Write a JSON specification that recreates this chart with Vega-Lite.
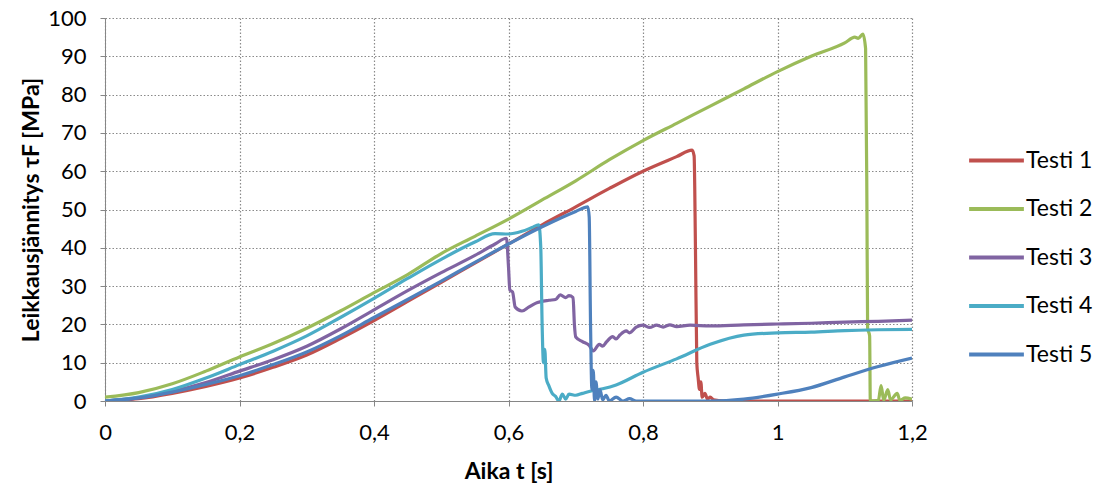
{
"$schema":"https://vega.github.io/schema/vega-lite/v6.json",
"width":807,"height":383,
"autosize":{"type":"none"},
"padding":{"left":105,"top":18,"right":197,"bottom":89},
"background":"white",
"config":{"font":"Lato","view":{"stroke":null}},
"data":{"values":[
{"s":"Testi 1","t":0,"v":0},{"s":"Testi 1","t":0.05,"v":0.6},{"s":"Testi 1","t":0.1,"v":2},{"s":"Testi 1","t":0.15,"v":3.8},{"s":"Testi 1","t":0.2,"v":6},{"s":"Testi 1","t":0.25,"v":8.8},{"s":"Testi 1","t":0.3,"v":12},{"s":"Testi 1","t":0.35,"v":16.3},{"s":"Testi 1","t":0.4,"v":21},{"s":"Testi 1","t":0.45,"v":26},{"s":"Testi 1","t":0.5,"v":31},{"s":"Testi 1","t":0.55,"v":36},{"s":"Testi 1","t":0.6,"v":41},{"s":"Testi 1","t":0.65,"v":46},{"s":"Testi 1","t":0.7,"v":50.7},{"s":"Testi 1","t":0.75,"v":55.5},{"s":"Testi 1","t":0.8,"v":60},{"s":"Testi 1","t":0.85,"v":63.8},{"s":"Testi 1","t":0.873,"v":65.5},{"s":"Testi 1","t":0.876,"v":64},{"s":"Testi 1","t":0.878,"v":40},{"s":"Testi 1","t":0.88,"v":10},{"s":"Testi 1","t":0.882,"v":6},{"s":"Testi 1","t":0.884,"v":3},{"s":"Testi 1","t":0.886,"v":5},{"s":"Testi 1","t":0.888,"v":1},{"s":"Testi 1","t":0.892,"v":2},{"s":"Testi 1","t":0.896,"v":0.5},{"s":"Testi 1","t":0.9,"v":1},{"s":"Testi 1","t":0.905,"v":0.3},{"s":"Testi 1","t":0.92,"v":0},{"s":"Testi 1","t":1.2,"v":0},
{"s":"Testi 2","t":0,"v":1},{"s":"Testi 2","t":0.05,"v":2.2},{"s":"Testi 2","t":0.1,"v":4.5},{"s":"Testi 2","t":0.15,"v":7.8},{"s":"Testi 2","t":0.2,"v":11.5},{"s":"Testi 2","t":0.25,"v":15},{"s":"Testi 2","t":0.3,"v":19},{"s":"Testi 2","t":0.35,"v":23.5},{"s":"Testi 2","t":0.4,"v":28.3},{"s":"Testi 2","t":0.45,"v":33},{"s":"Testi 2","t":0.5,"v":38.5},{"s":"Testi 2","t":0.55,"v":43},{"s":"Testi 2","t":0.6,"v":47.5},{"s":"Testi 2","t":0.65,"v":52.5},{"s":"Testi 2","t":0.7,"v":57.5},{"s":"Testi 2","t":0.75,"v":63},{"s":"Testi 2","t":0.8,"v":68},{"s":"Testi 2","t":0.85,"v":72.5},{"s":"Testi 2","t":0.9,"v":77},{"s":"Testi 2","t":0.95,"v":81.5},{"s":"Testi 2","t":1.0,"v":86},{"s":"Testi 2","t":1.05,"v":90},{"s":"Testi 2","t":1.1,"v":93.5},{"s":"Testi 2","t":1.115,"v":95},{"s":"Testi 2","t":1.12,"v":94.7},{"s":"Testi 2","t":1.127,"v":95.8},{"s":"Testi 2","t":1.131,"v":92},{"s":"Testi 2","t":1.133,"v":50},{"s":"Testi 2","t":1.134,"v":19},{"s":"Testi 2","t":1.137,"v":17},{"s":"Testi 2","t":1.138,"v":0},{"s":"Testi 2","t":1.15,"v":0.2},{"s":"Testi 2","t":1.154,"v":4},{"s":"Testi 2","t":1.158,"v":0.2},{"s":"Testi 2","t":1.164,"v":3},{"s":"Testi 2","t":1.168,"v":0.3},{"s":"Testi 2","t":1.178,"v":2},{"s":"Testi 2","t":1.182,"v":0.2},{"s":"Testi 2","t":1.19,"v":0.8},{"s":"Testi 2","t":1.2,"v":0.5},
{"s":"Testi 3","t":0,"v":0},{"s":"Testi 3","t":0.05,"v":0.8},{"s":"Testi 3","t":0.1,"v":2.5},{"s":"Testi 3","t":0.15,"v":4.8},{"s":"Testi 3","t":0.2,"v":7.8},{"s":"Testi 3","t":0.25,"v":10.8},{"s":"Testi 3","t":0.3,"v":14.3},{"s":"Testi 3","t":0.35,"v":18.8},{"s":"Testi 3","t":0.4,"v":23.8},{"s":"Testi 3","t":0.45,"v":28.8},{"s":"Testi 3","t":0.5,"v":33.5},{"s":"Testi 3","t":0.55,"v":38},{"s":"Testi 3","t":0.58,"v":41},{"s":"Testi 3","t":0.597,"v":42.5},{"s":"Testi 3","t":0.6,"v":35},{"s":"Testi 3","t":0.602,"v":29},{"s":"Testi 3","t":0.606,"v":28.5},{"s":"Testi 3","t":0.61,"v":24.5},{"s":"Testi 3","t":0.62,"v":23.5},{"s":"Testi 3","t":0.63,"v":24.5},{"s":"Testi 3","t":0.64,"v":25.5},{"s":"Testi 3","t":0.66,"v":26.3},{"s":"Testi 3","t":0.67,"v":26.5},{"s":"Testi 3","t":0.677,"v":27.7},{"s":"Testi 3","t":0.685,"v":27},{"s":"Testi 3","t":0.69,"v":27.5},{"s":"Testi 3","t":0.696,"v":27},{"s":"Testi 3","t":0.698,"v":20},{"s":"Testi 3","t":0.7,"v":16.7},{"s":"Testi 3","t":0.71,"v":15.5},{"s":"Testi 3","t":0.72,"v":14.5},{"s":"Testi 3","t":0.726,"v":13.1},{"s":"Testi 3","t":0.735,"v":14.8},{"s":"Testi 3","t":0.74,"v":14.3},{"s":"Testi 3","t":0.746,"v":15.5},{"s":"Testi 3","t":0.755,"v":16.8},{"s":"Testi 3","t":0.76,"v":16.2},{"s":"Testi 3","t":0.766,"v":17.3},{"s":"Testi 3","t":0.775,"v":18.3},{"s":"Testi 3","t":0.78,"v":17.8},{"s":"Testi 3","t":0.79,"v":19.3},{"s":"Testi 3","t":0.8,"v":19.8},{"s":"Testi 3","t":0.81,"v":19.2},{"s":"Testi 3","t":0.82,"v":19.8},{"s":"Testi 3","t":0.83,"v":19.3},{"s":"Testi 3","t":0.84,"v":19.9},{"s":"Testi 3","t":0.85,"v":19.4},{"s":"Testi 3","t":0.87,"v":19.8},{"s":"Testi 3","t":0.9,"v":19.6},{"s":"Testi 3","t":0.95,"v":19.9},{"s":"Testi 3","t":1.0,"v":20.1},{"s":"Testi 3","t":1.05,"v":20.3},{"s":"Testi 3","t":1.1,"v":20.6},{"s":"Testi 3","t":1.15,"v":20.8},{"s":"Testi 3","t":1.2,"v":21.1},
{"s":"Testi 4","t":0,"v":0},{"s":"Testi 4","t":0.05,"v":1},{"s":"Testi 4","t":0.1,"v":3},{"s":"Testi 4","t":0.15,"v":6},{"s":"Testi 4","t":0.2,"v":9.5},{"s":"Testi 4","t":0.25,"v":13},{"s":"Testi 4","t":0.3,"v":17},{"s":"Testi 4","t":0.35,"v":21.8},{"s":"Testi 4","t":0.4,"v":26.8},{"s":"Testi 4","t":0.45,"v":32},{"s":"Testi 4","t":0.5,"v":37},{"s":"Testi 4","t":0.55,"v":41.5},{"s":"Testi 4","t":0.58,"v":43.7},{"s":"Testi 4","t":0.6,"v":43.6},{"s":"Testi 4","t":0.62,"v":44.3},{"s":"Testi 4","t":0.635,"v":45.3},{"s":"Testi 4","t":0.645,"v":46},{"s":"Testi 4","t":0.648,"v":40},{"s":"Testi 4","t":0.65,"v":20},{"s":"Testi 4","t":0.652,"v":10},{"s":"Testi 4","t":0.654,"v":13.5},{"s":"Testi 4","t":0.656,"v":6},{"s":"Testi 4","t":0.66,"v":4},{"s":"Testi 4","t":0.665,"v":2},{"s":"Testi 4","t":0.67,"v":1.2},{"s":"Testi 4","t":0.675,"v":0},{"s":"Testi 4","t":0.68,"v":1.8},{"s":"Testi 4","t":0.685,"v":0.5},{"s":"Testi 4","t":0.69,"v":1.8},{"s":"Testi 4","t":0.7,"v":1.5},{"s":"Testi 4","t":0.71,"v":2},{"s":"Testi 4","t":0.72,"v":2.5},{"s":"Testi 4","t":0.74,"v":3.2},{"s":"Testi 4","t":0.76,"v":4.2},{"s":"Testi 4","t":0.8,"v":7.5},{"s":"Testi 4","t":0.85,"v":11},{"s":"Testi 4","t":0.9,"v":14.8},{"s":"Testi 4","t":0.95,"v":17.2},{"s":"Testi 4","t":1.0,"v":17.8},{"s":"Testi 4","t":1.05,"v":18},{"s":"Testi 4","t":1.1,"v":18.4},{"s":"Testi 4","t":1.15,"v":18.6},{"s":"Testi 4","t":1.2,"v":18.7},
{"s":"Testi 5","t":0,"v":0},{"s":"Testi 5","t":0.05,"v":0.8},{"s":"Testi 5","t":0.1,"v":2.3},{"s":"Testi 5","t":0.15,"v":4.3},{"s":"Testi 5","t":0.2,"v":6.6},{"s":"Testi 5","t":0.25,"v":9.5},{"s":"Testi 5","t":0.3,"v":12.8},{"s":"Testi 5","t":0.35,"v":17},{"s":"Testi 5","t":0.4,"v":21.8},{"s":"Testi 5","t":0.45,"v":26.5},{"s":"Testi 5","t":0.5,"v":31.3},{"s":"Testi 5","t":0.55,"v":36.2},{"s":"Testi 5","t":0.6,"v":41},{"s":"Testi 5","t":0.65,"v":45.5},{"s":"Testi 5","t":0.7,"v":49.5},{"s":"Testi 5","t":0.718,"v":50.7},{"s":"Testi 5","t":0.72,"v":48},{"s":"Testi 5","t":0.722,"v":20},{"s":"Testi 5","t":0.724,"v":3},{"s":"Testi 5","t":0.726,"v":8},{"s":"Testi 5","t":0.728,"v":0},{"s":"Testi 5","t":0.73,"v":5},{"s":"Testi 5","t":0.733,"v":0.5},{"s":"Testi 5","t":0.736,"v":3},{"s":"Testi 5","t":0.74,"v":0.3},{"s":"Testi 5","t":0.745,"v":1.5},{"s":"Testi 5","t":0.75,"v":0},{"s":"Testi 5","t":0.76,"v":1},{"s":"Testi 5","t":0.77,"v":0},{"s":"Testi 5","t":0.78,"v":0.6},{"s":"Testi 5","t":0.79,"v":0},{"s":"Testi 5","t":0.85,"v":0},{"s":"Testi 5","t":0.9,"v":0},{"s":"Testi 5","t":0.95,"v":0.5},{"s":"Testi 5","t":1.0,"v":1.8},{"s":"Testi 5","t":1.05,"v":3.5},{"s":"Testi 5","t":1.1,"v":6.3},{"s":"Testi 5","t":1.15,"v":9},{"s":"Testi 5","t":1.2,"v":11.2}
]},
"mark":{"type":"line","strokeWidth":3.2,"interpolate":"monotone","clip":true},
"encoding":{
"x":{"field":"t","type":"quantitative","scale":{"domain":[0,1.2],"nice":false,"zero":false},
"axis":{"title":"Aika t [s]","titleFontSize":23,"titleFontWeight":"bold","titleColor":"#000","titlePadding":17,
"values":[0,0.2,0.4,0.6,0.8,1,1.2],"labelExpr":"replace(format(datum.value,'.1~f'),'.',',')",
"labelFontSize":22,"labelColor":"#000","labelPadding":16,"labelFlush":false,
"domainColor":"#868686","domainWidth":1,"tickColor":"#868686","tickSize":5,
"grid":true,"gridColor":"#8a8a8a","gridDash":[1.5,2],"gridWidth":1.2}},
"y":{"field":"v","type":"quantitative","scale":{"domain":[0,100],"nice":false},
"axis":{"title":"Leikkausjännitys τF [MPa]","titleFontSize":23,"titleFontWeight":"bold","titleColor":"#000","titlePadding":4,
"values":[0,10,20,30,40,50,60,70,80,90,100],
"labelFontSize":22,"labelColor":"#000","labelPadding":14,"labelFlush":false,
"domainColor":"#868686","domainWidth":1,"tickColor":"#868686","tickSize":5,
"grid":true,"gridColor":"#8a8a8a","gridDash":[1.5,2],"gridWidth":1.2}},
"color":{"field":"s","type":"nominal","scale":{"domain":["Testi 1","Testi 2","Testi 3","Testi 4","Testi 5"],"range":["#C0504D","#9BBB59","#8064A2","#4BACC6","#4F81BD"]},
"legend":{"title":null,"orient":"none","legendX":862,"legendY":113,"symbolType":"stroke","symbolSize":3000,"symbolStrokeWidth":4,"labelFontSize":23,"labelColor":"#000","labelOffset":0,"rowPadding":6.5}}
}
}
